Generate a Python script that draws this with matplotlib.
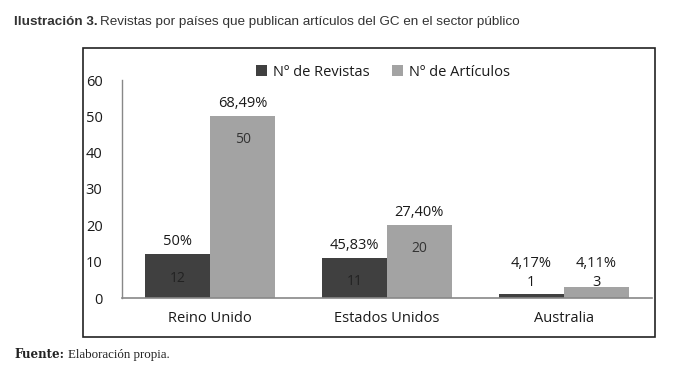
import matplotlib.pyplot as plt
import numpy as np
from matplotlib.patches import Rectangle

# data
paises = ["Reino Unido", "Estados Unidos", "Australia"]
revistas = [12, 11, 1]
articulos = [50, 20, 3]
pct_revistas = ["50%", "45,83%", "4,17%"]
pct_articulos = ["68,49%", "27,40%", "4,11%"]
y_ticks = [0, 10, 20, 30, 40, 50, 60]

DARK = "#404040"
LIGHT = "#a3a3a3"
CHART_FONT = ["Open Sans", "DejaVu Sans"]

W, H = 675, 379
fig = plt.figure(figsize=(W / 100, H / 100), dpi=100)


def px(x, y):
    """pixel position (from top left) -> figure fraction"""
    return x / W, 1 - y / H


# frame around the chart
x0, y0 = px(83, 337)
x1, y1 = px(655, 48)
fig.patches.append(Rectangle((x0, y0), x1 - x0, y1 - y0, transform=fig.transFigure,
                             fill=False, edgecolor="#222222", linewidth=1.2))

l, b = px(122, 298)
r, t = px(652, 80)
ax = fig.add_axes([l, b, r - l, t - b])

x = np.arange(len(paises))
w = 0.367
bars_r = ax.bar(x - w / 2, revistas, w, color=DARK, label="Nº de Revistas")
bars_a = ax.bar(x + w / 2, articulos, w, color=LIGHT, label="Nº de Artículos")


def label_bars(bars, counts, pcts, count_color):
    for bar, n, p in zip(bars, counts, pcts):
        cx = bar.get_x() + bar.get_width() / 2
        top = bar.get_height()
        if n >= 10:
            # count inside the bar, percentage above
            ax.annotate(str(n), (cx, top), xytext=(0, -17), textcoords="offset points",
                        ha="center", va="center", fontsize=10, color=count_color,
                        family=CHART_FONT)
            ax.annotate(p, (cx, top), xytext=(0, 9), textcoords="offset points",
                        ha="center", va="center", fontsize=10.5, color="#1a1a1a",
                        family=CHART_FONT)
        else:
            # small bars: both labels stacked above
            ax.annotate(str(n), (cx, 0), xytext=(0, 11), textcoords="offset points",
                        ha="center", va="center", fontsize=10.5, color="#1a1a1a",
                        family=CHART_FONT)
            ax.annotate(p, (cx, 0), xytext=(0, 25), textcoords="offset points",
                        ha="center", va="center", fontsize=10.5, color="#1a1a1a",
                        family=CHART_FONT)


label_bars(bars_r, revistas, pct_revistas, "#222222")
label_bars(bars_a, articulos, pct_articulos, "#333333")

ax.set_xlim(-0.5, 2.5)
ax.set_ylim(0, 60)
ax.set_yticks(y_ticks)
ax.set_xticks(x)
ax.set_xticklabels(paises, family=CHART_FONT, fontsize=10.5, color="#1a1a1a")
for lab in ax.get_yticklabels():
    lab.set_family(CHART_FONT)
    lab.set_fontsize(10.5)
    lab.set_color("#1a1a1a")
ax.tick_params(axis="y", length=0, pad=14)
ax.tick_params(axis="x", length=0, pad=9)
for side in ["top", "right"]:
    ax.spines[side].set_visible(False)
ax.spines["left"].set_color("#888888")
ax.spines["bottom"].set_color("#888888")
ax.spines["left"].set_linewidth(1)
ax.spines["bottom"].set_linewidth(1.2)

leg = fig.legend(handles=[bars_r, bars_a], loc="center", bbox_to_anchor=px(383, 72),
                 ncol=2, frameon=False, handlelength=0.7, handleheight=0.7,
                 handletextpad=0.4, columnspacing=1.6,
                 prop={"family": CHART_FONT, "size": 10.5})
for txt in leg.get_texts():
    txt.set_color("#1a1a1a")

# title and source note
tx, ty = px(14, 22)
title_b = fig.text(tx, ty, "Ilustración 3.", fontsize=9.7, fontweight="bold",
                   color="#333333", va="center", family="Liberation Sans")
fig.canvas.draw()
bb = title_b.get_window_extent()
fig.text(bb.x1 / W + 0.004, ty, "Revistas por países que publican artículos del GC en el sector público",
         fontsize=9.7, color="#333333", va="center", family="Liberation Sans")

fx, fy = px(14, 355)
src_b = fig.text(fx, fy, "Fuente:", fontsize=8.5, fontweight="bold", color="#222222",
                 va="center", family="DejaVu Serif")
fig.canvas.draw()
bb = src_b.get_window_extent()
fig.text(bb.x1 / W + 0.006, fy, "Elaboración propia.", fontsize=9.3, color="#222222",
         va="center", family="Liberation Serif")

fig.savefig("out.png", dpi=100, facecolor="white")
